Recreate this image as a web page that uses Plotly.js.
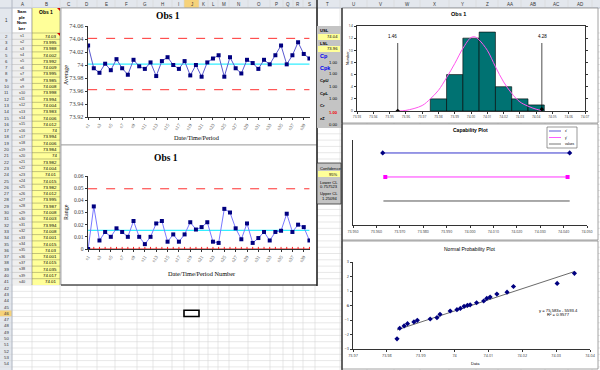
<!DOCTYPE html>
<html><head><meta charset="utf-8">
<script src="https://cdn.plot.ly/plotly-3.0.1.min.js"></script>
<style>html,body{margin:0;padding:0;background:#fff}#chart{width:600px;height:370px}</style>
</head><body><div id="chart"></div>
<script>
// ---------------- DATA ----------------
const sampleLabels = ['s1','s2','s3','s4','s5','s6','s7','s8','s9','s10','s11','s12','s13','s14','s15','s16','s17','s18','s19','s20',
  's21','s22','s23','s24','s25','s26','s27','s28','s29','s30','s31','s32','s33','s34','s35','s36','s37','s38','s39','s40'];
const obs1 = [74.03,73.995,73.988,74.002,73.992,74.009,73.995,73.985,74.008,73.998,73.994,74.004,73.983,74.006,74.012,74,73.994,74.006,73.984,74,
  73.982,74.004,74.01,74.015,73.982,74.012,73.995,73.987,74.008,74.003,73.994,74.008,74.001,74.015,74.03,74.001,74.015,74.035,74.017,74.01];
const movingRange = [0,0.035,0.007,0.014,0.010,0.017,0.014,0.010,0.023,0.010,0.004,0.010,0.021,0.023,0.006,0.012,0.006,0.012,0.022,0.016,
  0.018,0.022,0.006,0.005,0.033,0.030,0.017,0.008,0.021,0.005,0.009,0.014,0.007,0.014,0.015,0.029,0.014,0.020,0.018,0.007];
const xbarUCL = 74.041, xbarCL = 74.0015, xbarLCL = 73.962;
const rUCL = 0.0495, rCL = 0.0153, rLCL = 0;
const xbarTickVals = [73.92,73.94,73.96,73.98,74,74.02,74.04,74.06];
const xbarTickText = ['73.92','73.94','73.96','73.98','74','74.02','74.04','74.06'];
const rTickVals = [0,0.01,0.02,0.03,0.04,0.05,0.06];
const rTickText = ['0','0.01','0.02','0.03','0.04','0.05','0.06'];

const histBins = [73.98,73.99,74.00,74.01,74.02,74.03,74.04];
const histCounts = [2,6,12,13,4,2,1];
const curveX = [73.955,73.96,73.97,73.975,73.98,73.985,73.99,73.995,74.00,74.0025,74.005,74.01,74.015,74.02,74.025,74.03,74.035,74.04,74.0435];
const curveY = [0,0.1,0.9,2.0,3.4,5.5,7.8,10.3,12.1,12.2,11.7,10.0,7.3,4.8,2.9,1.5,0.8,0.3,0.1];
const specLineX = [73.955,74.0435];
const specLineTop = 11.2;
const specLineLabels = ['1.46','4.28'];
const histTickVals = [73.93,73.94,73.95,73.96,73.97,73.98,73.99,74.00,74.01,74.02,74.03,74.04,74.05,74.06,74.07];
const histTickText = ['73.93','73.94','73.95','73.96','73.97','73.98','73.99','74.00','74.01','74.02','74.03','74.04','74.05','74.06','74.07'];

const capSeriesNames = ["x'","y'","values"];
const capX1 = [73.9627,74.0426], capY1 = [3,3];
const capX2 = [73.9638,74.0417], capY2 = [2,2];
const capX3 = [73.963,74.0426],  capY3 = [1,1];
const capTickVals = [73.95,73.96,73.97,73.98,73.99,74.00,74.01,74.02,74.03,74.04,74.05];
const capTickText = ['73.950','73.960','73.970','73.980','73.990','74.000','74.010','74.020','74.030','74.040','74.050'];

const npX = [73.983,73.9838,73.9851,73.9861,73.988,73.989,73.9928,73.9948,73.9957,73.9987,74.0007,74.0017,74.0028,74.0038,74.0046,74.0065,74.0086,74.0095,74.0105,74.0125,74.0155,74.0174,74.0303,74.0354];
const npZ = [-2.3,-1.57,-1.41,-1.25,-1.13,-1.02,-0.93,-0.84,-0.61,-0.38,-0.29,-0.2,-0.06,0.01,0.05,0.19,0.31,0.49,0.58,0.79,0.92,1.31,1.52,2.22];
const trendX = [73.983,74.0354], trendY = [-1.68,2.34];
const npTickVals = [73.97,73.98,73.99,74,74.01,74.02,74.03,74.04];
const npTickText = ['73.97','73.98','73.99','74','74.01','74.02','74.03','74.04'];

const statLabels = ['USL','LSL','Cp','Cpk','CpU','CpL','Cr','zZ'];
const statValues = ['74.04','73.96','1.00','1.00','1.00','1.00','1.00','0.00'];
const confLabels = ['Confidence','Lower CL','Upper CL'];
const confValues = ['95%','0.757523','1.25094'];

// ---------------- HELPERS ----------------
const W = 600, H = 370;
const X = p => p / W, Y = p => 1 - p / H;
const shapes = [], ann = [];
function rect(x0,y0,x1,y1,fill,lc,lw){shapes.push({type:'rect',xref:'paper',yref:'paper',x0:X(x0),x1:X(x1),y0:Y(y1),y1:Y(y0),fillcolor:fill||'rgba(0,0,0,0)',line:{color:lc||'rgba(0,0,0,0)',width:lw===undefined?0:lw},layer:'below'});}
function line(x0,y0,x1,y1,c,w,dash){shapes.push({type:'line',xref:'paper',yref:'paper',x0:X(x0),x1:X(x1),y0:Y(y0),y1:Y(y1),line:{color:c,width:w||1,dash:dash||'solid'},layer:'below'});}
function txt(x,y,t,size,o){o=o||{};ann.push({xref:'paper',yref:'paper',x:X(x),y:Y(y),text:t,showarrow:false,xanchor:o.xa||'center',yanchor:'middle',textangle:o.rot||0,
  font:{size:size,family:o.fam||'Liberation Sans, Arial',color:o.color||'#000',weight:o.bold?'bold':'normal'}});}
const SERIF = 'Liberation Serif, Times New Roman';

// ---------------- SPREADSHEET ----------------
const colEdges = [12,32,60,77,97,115,137,153,172,184,199,208,218,229,248,270,283,293,303,315,340,367,394,420,449,476,498,521,545,568,592];
const colNames = ['A','B','C','D','E','F','G','H','I','J','K','L','M','N','O','P','Q','R','S','T','U','V','W','X','Y','Z','AA','AB','AC','AD'];
const rowTop = r => r === 1 ? 8 : 33 + (r - 2) * 6.3;
const grid = '#d6d6d6';
rect(0,0,600,8,'#e3e7ed');
rect(0,0,12,370,'#e3e7ed');
rect(184,0,199,8,'#f6d27a');
rect(0,rowTop(46),12,rowTop(47),'#f6d27a');
for (let r = 2; r <= 56; r++) line(0,rowTop(r),600,rowTop(r),grid,0.6);
line(0,8,600,8,'#a9b3c2',0.8);
for (let i = 0; i < colEdges.length; i++) line(colEdges[i],0,colEdges[i],370,grid,0.6);
line(12,0,12,370,'#a9b3c2',0.8);
for (let i = 0; i < colNames.length; i++) txt((colEdges[i]+colEdges[i+1])/2,4.2,colNames[i],4.5,{color:'#333'});
txt(6,20.5,'1',4.5,{color:'#333'});
for (let r = 2; r <= 54; r++) txt(6,rowTop(r)+3.15,String(r),4.3,{color:'#333'});
rect(32,8,60,rowTop(42),'#ffff99');
for (let r = 2; r <= 41; r++) line(32,rowTop(r),60,rowTop(r),'#9a9a60',0.6);
line(32,8,32,rowTop(42),'#777',0.6); line(60,8,60,rowTop(42),'#777',0.6);
rect(13,rowTop(2),31,rowTop(42),'#efefef');
for (let r = 2; r <= 41; r++) line(12,rowTop(r),32,rowTop(r),'#bdbdbd',0.6);
txt(22,20.5,'Sam<br>ple<br>Num<br>ber',4.3,{bold:true});
txt(46,12,'Obs 1',5,{bold:true});
shapes.push({type:'path',xref:'paper',yref:'paper',path:`M ${X(57)},${Y(8)} L ${X(60)},${Y(8)} L ${X(60)},${Y(11)} Z`,fillcolor:'#d00000',line:{width:0},layer:'below'});
shapes.push({type:'path',xref:'paper',yref:'paper',path:`M ${X(57)},${Y(33)} L ${X(60)},${Y(33)} L ${X(60)},${Y(36)} Z`,fillcolor:'#d00000',line:{width:0},layer:'below'});
for (let i = 0; i < obs1.length; i++) {
  const yc = rowTop(i+2)+3.15;
  txt(22,yc,sampleLabels[i],3.8,{color:'#333'});
  txt(59,yc,String(obs1[i]),4.4,{xa:'right'});
}
rect(184,rowTop(46),199,rowTop(47),null,'#000',1.6);

// ---------------- CHART FRAMES ----------------
rect(61,8,317,145,'#fff','#9a9a9a',0.8);
rect(61,145,317,285,'#fff','#9a9a9a',0.8);
line(317,0,317,286,'#222',1.5);
line(61,285,317,285,'#222',1.2);
rect(342,8,598,123,'#fff','#8a8a8a',0.8);
rect(342,124,598,240,'#fff','#8a8a8a',0.8);
rect(342,241,598,369,'#fff','#8a8a8a',0.8);
line(342,8,342,370,'#333',1.4);

rect(317,26,341,128,'#c4c4c4');
const statY = [[30,37],[43,49],[56,62],[68,74],[80,86],[93,99],[105,112],[118,124]];
for (let i = 0; i < statLabels.length; i++) {
  const lab = statLabels[i];
  const isCp = (lab === 'Cp' || lab === 'Cpk');
  txt(318,statY[i][0],lab,isCp?5.5:4.2,{xa:'left',bold:true,color:isCp?'#0000ee':'#000'});
  if (i < 2) rect(318,statY[i][1]-3,340,statY[i][1]+3,'#ffff99');
  txt(339.5,statY[i][1],statValues[i],4.2,{xa:'right',bold:i===6,color:i===6?'#ee0000':'#000'});
}
rect(317,163,341,204,'#c4c4c4','#333',0.8);
rect(318,171,340,177,'#ffff99');
const confY = [[168,174],[182,187],[193,199]];
for (let i = 0; i < 3; i++) {
  txt(318,confY[i][0],confLabels[i],4.1,{xa:'left'});
  txt(339.5,confY[i][1],confValues[i],4.1,{xa:'right'});
}

// ---------------- CHART TEXT ----------------
txt(168,16,'Obs 1',9.5,{fam:SERIF,bold:true});
txt(66,75,'Average',6,{fam:SERIF,rot:-90});
txt(197,137,'Date/Time/Period',6.3,{fam:SERIF});
txt(166,158,'Obs 1',9.5,{fam:SERIF,bold:true});
txt(66,212,'Range',6,{fam:SERIF,rot:-90});
txt(202,273,'Date/Time/Period Number',6.3,{fam:SERIF});
txt(458,14,'Obs 1',5.5,{bold:true});
txt(348,58,'Number',3.8,{rot:-90});
txt(392,36,specLineLabels[0],4.5);
txt(542,36,specLineLabels[1],4.5);
txt(470,130,'Capability Plot',5,{bold:true});
txt(469,249,'Normal Probability Plot',5);
txt(475,363,'Data',4);
txt(347,306,'z',4,{rot:-90});
txt(558,310,'y = 75.583x - 5593.4',4.2);
txt(558,314.5,'R² = 0.9577',4.2);
rect(547,127,577,148,'#fff','#555',0.6);
line(549,131,561,131,'#3333cc',0.8); line(549,137.5,561,137.5,'#ff33ff',0.8); line(549,144,561,144,'#555',0.8);
txt(563,131,capSeriesNames[0],3.2,{xa:'left'});
txt(563,137.5,capSeriesNames[1],3.2,{xa:'left'});
txt(563,144,capSeriesNames[2],3.2,{xa:'left'});

// ---------------- TRACES ----------------
const constArr = v => sampleLabels.map(() => v);
const traces = [
  {x:sampleLabels,y:constArr(xbarUCL),xaxis:'x',yaxis:'y',mode:'lines',line:{color:'#ff3030',width:1,dash:'dash'}},
  {x:sampleLabels,y:constArr(xbarLCL),xaxis:'x',yaxis:'y',mode:'lines',line:{color:'#ff3030',width:1,dash:'dash'}},
  {x:sampleLabels,y:constArr(xbarCL),xaxis:'x',yaxis:'y',mode:'lines',line:{color:'#33eeff',width:1.3}},
  {x:sampleLabels,y:obs1,xaxis:'x',yaxis:'y',mode:'lines+markers',line:{color:'#5a5ad0',width:1},marker:{symbol:'square',size:4,color:'#000080'}},

  {x:sampleLabels,y:constArr(rUCL),xaxis:'x2',yaxis:'y2',mode:'lines',line:{color:'#ff3030',width:1,dash:'dash'}},
  {x:sampleLabels,y:constArr(rCL),xaxis:'x2',yaxis:'y2',mode:'lines',line:{color:'#33eeff',width:1.2}},
  {x:sampleLabels,y:constArr(rLCL),xaxis:'x2',yaxis:'y2',mode:'lines+markers',line:{color:'#ee2020',width:1.2},marker:{symbol:'line-ns',size:3,color:'#ee2020',line:{color:'#ee2020',width:1}}},
  {x:sampleLabels,y:movingRange,xaxis:'x2',yaxis:'y2',mode:'lines+markers',line:{color:'#7878ff',width:1},marker:{symbol:'square',size:4,color:'#000080'}},

  {x:histBins,y:histCounts,type:'bar',width:0.01,xaxis:'x3',yaxis:'y3',marker:{color:'#007272',line:{color:'#000',width:0.6}}},
  {x:curveX,y:curveY,xaxis:'x3',yaxis:'y3',mode:'lines',line:{color:'#ff55ee',width:1,shape:'spline'}},
  {x:[specLineX[0],specLineX[0]],y:[0,specLineTop],xaxis:'x3',yaxis:'y3',mode:'lines',line:{color:'#000',width:0.7}},
  {x:[specLineX[1],specLineX[1]],y:[0.3,specLineTop],xaxis:'x3',yaxis:'y3',mode:'lines',line:{color:'#000',width:0.7}},
  {x:specLineX,y:[0,0.3],xaxis:'x3',yaxis:'y3',mode:'markers',marker:{symbol:'diamond',size:3.5,color:'#000'}},

  {x:capX1,y:capY1,xaxis:'x4',yaxis:'y4',mode:'lines+markers',line:{color:'#3333cc',width:1},marker:{symbol:'diamond',size:4,color:'#000080'}},
  {x:capX2,y:capY2,xaxis:'x4',yaxis:'y4',mode:'lines+markers',line:{color:'#ff33ff',width:1},marker:{symbol:'square',size:4,color:'#ff00ff'}},
  {x:capX3,y:capY3,xaxis:'x4',yaxis:'y4',mode:'lines',line:{color:'#555',width:1}},

  {x:trendX,y:trendY,xaxis:'x5',yaxis:'y5',mode:'lines',line:{color:'#444',width:0.8}},
  {x:npX,y:npZ,xaxis:'x5',yaxis:'y5',mode:'markers',marker:{symbol:'diamond',size:4,color:'#000080'}}
];

const ax = (extra) => Object.assign({showline:true,linecolor:'#000',linewidth:0.8,ticks:'outside',ticklen:2.5,tickwidth:0.8,tickcolor:'#000',
  showgrid:false,zeroline:false,fixedrange:true},extra);
const layout = {
  width:600,height:370,margin:{l:0,r:0,t:0,b:0},paper_bgcolor:'#fff',plot_bgcolor:'rgba(0,0,0,0)',
  showlegend:false,hovermode:false,bargap:0,shapes:shapes,annotations:ann,
  xaxis:ax({domain:[X(88),X(310)],anchor:'y',type:'category',range:[-0.02,39.1],tickvals:sampleLabels.filter((_,i)=>i%2===0),
    tickangle:-55,tickfont:{family:SERIF,size:4.8}}),
  yaxis:ax({domain:[Y(117),Y(26)],anchor:'x',range:[73.92,74.06],tickvals:xbarTickVals,ticktext:xbarTickText,tickfont:{family:SERIF,size:6.3}}),
  xaxis2:ax({domain:[X(88),X(310)],anchor:'y2',type:'category',range:[-0.02,39.1],tickvals:sampleLabels.filter((_,i)=>i%2===0),
    tickangle:-55,tickfont:{family:SERIF,size:4.8}}),
  yaxis2:ax({domain:[Y(249),Y(176)],anchor:'x2',range:[0,0.06],tickvals:rTickVals,ticktext:rTickText,tickfont:{family:SERIF,size:5.5}}),
  xaxis3:ax({domain:[X(357),X(585)],anchor:'y3',range:[73.93,74.07],tickvals:histTickVals,ticktext:histTickText,tickfont:{size:3.3,color:'#333'},mirror:true}),
  yaxis3:ax({domain:[Y(111),Y(26)],anchor:'x3',range:[0,14],dtick:2,tickfont:{size:3.8,color:'#333'},mirror:'ticks'}),
  xaxis4:ax({domain:[X(353),X(587)],anchor:'y4',range:[73.95,74.05],tickvals:capTickVals,ticktext:capTickText,tickfont:{size:3.6,color:'#333'}}),
  yaxis4:ax({domain:[Y(225),Y(140)],anchor:'x4',range:[0,3.54],showticklabels:false,ticks:''}),
  xaxis5:ax({domain:[X(353),X(590)],anchor:'y5',range:[73.97,74.04],tickvals:npTickVals,ticktext:npTickText,tickfont:{size:3.8,color:'#333'}}),
  yaxis5:ax({domain:[Y(349),Y(262)],anchor:'x5',range:[-3,3],dtick:1,tickfont:{size:3.8,color:'#333'}})
};
Plotly.newPlot('chart',traces,layout,{staticPlot:true,displayModeBar:false});
</script></body></html>
